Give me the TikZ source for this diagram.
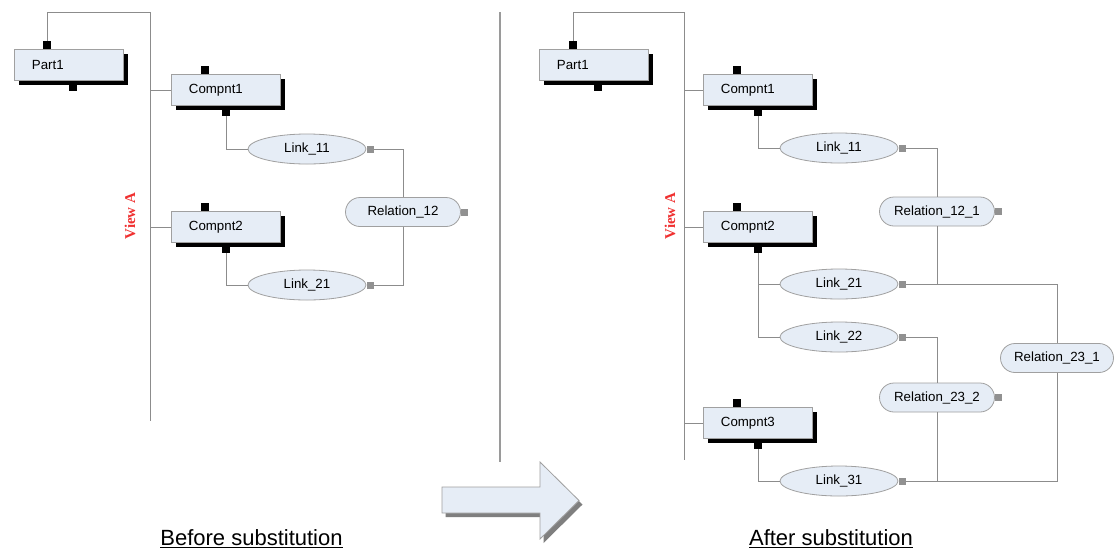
\documentclass[tikz,border=0pt]{standalone}
\usepackage{fontspec}
\setmainfont{Liberation Sans}
\newfontfamily\viewfont{Liberation Serif}
\usetikzlibrary{shapes.misc,shapes.geometric,shadows}
\definecolor{boxfill}{HTML}{E6EDF6}
\definecolor{boxline}{HTML}{A0A0A0}
\definecolor{wirecol}{HTML}{8C8C8C}
\definecolor{sqgray}{HTML}{919191}
\definecolor{viewred}{HTML}{F03030}
\definecolor{sepcol}{HTML}{9A9A9A}
\definecolor{arrowshadow}{HTML}{7F7F7F}
\tikzset{
  comp/.style={rectangle, draw=boxline, line width=0.8pt, fill=boxfill,
    minimum height=31pt, text width=74pt, inner xsep=17.5pt, inner ysep=0pt,
    align=left, anchor=north west, font=\fontsize{13.3}{16}\selectfont,
    drop shadow={shadow xshift=5pt, shadow yshift=-5pt, fill=black, opacity=1}},
  toptab/.style={rectangle, fill=black, minimum width=8pt, minimum height=8pt,
    inner sep=0pt, anchor=south},
  bottab/.style={rectangle, fill=black, minimum width=8pt, minimum height=10pt,
    inner sep=0pt, anchor=north},
  link/.style={ellipse, draw=boxline, line width=0.8pt, fill=boxfill,
    minimum width=118pt, minimum height=30pt, inner sep=0pt,
    font=\fontsize{13.3}{16}\selectfont},
  rel/.style={rounded rectangle, draw=boxline, line width=0.8pt, fill=boxfill,
    minimum width=115pt, minimum height=29pt, inner sep=0pt,
    font=\fontsize{13.3}{16}\selectfont},
  sq/.style={rectangle, fill=sqgray, minimum size=7pt, inner sep=0pt, anchor=west},
  wire/.style={draw=wirecol, line width=0.8pt},
  mainline/.style={draw=wirecol, line width=0.9pt},
  viewlbl/.style={rotate=90, text=viewred,
    font=\viewfont\bfseries\fontsize{15}{18}\selectfont},
  caption/.style={anchor=base, font=\fontsize{22}{26}\selectfont}
}
\begin{document}
\begin{tikzpicture}[x=1pt, y=-1pt]
\useasboundingbox (0,0) rectangle (1114,550);
\fill[white] (0,0) rectangle (1114,550);
\clip (0,0) rectangle (1114,550);

% ================= LEFT PANEL =================
\node[comp] (p1) at (14,49) {Part1};
\node[toptab] (p1t) at ([xshift=33pt]p1.north west) {};
\node[bottab] (p1b) at ([xshift=58.5pt]p1.south west) {};

\node[comp] (c1) at (171,74) {Compnt1};
\node[toptab] (c1t) at ([xshift=33.5pt]c1.north west) {};
\node[bottab] (c1b) at ([xshift=55pt]c1.south west) {};

\node[comp] (c2) at (171,211) {Compnt2};
\node[toptab] (c2t) at ([xshift=33.5pt]c2.north west) {};
\node[bottab] (c2b) at ([xshift=55pt]c2.south west) {};

\node[link] (l11) at (307,149) {Link\_11};
\node[sq] (l11s) at (l11.east) {};
\node[link] (l21) at (307,285) {Link\_21};
\node[sq] (l21s) at (l21.east) {};
\node[rel] (r12) at (403,212) {Relation\_12};
\node[sq] (r12s) at (r12.east) {};

\node[viewlbl] (va1) at (130,216) {View A};

\coordinate (LT) at (150,12);
\coordinate (LB) at (150,421);
\draw[mainline] (p1t.north) |- (LT) -- (LB);
\draw[wire] (c1.west -| LT) -- (c1.west);
\draw[wire] (c2.west -| LT) -- (c2.west);
\draw[wire] (c1b.south) |- (l11.west);
\draw[wire] (l11s.east) -| (r12.north);
\draw[wire] (r12.south) |- (l21s.east);
\draw[wire] (c2b.south) |- (l21.west);

% ================= SEPARATOR & ARROW =================
\coordinate (ST) at (500,12);
\coordinate (SB) at (500,462);
\draw[draw=sepcol, line width=2.2pt] (ST) -- (SB);

\begin{scope}[shift={(3.5,4)}]
\fill[arrowshadow] (442,487) -- (540,487) -- (540,462) -- (579,500.5)
  -- (540,539) -- (540,513) -- (442,513) -- cycle;
\end{scope}
\filldraw[fill=boxfill, draw=boxline, line width=0.8pt]
  (442,487) -- (540,487) -- (540,462) -- (579,500.5)
  -- (540,539) -- (540,513) -- (442,513) -- cycle;

% ================= RIGHT PANEL =================
\node[comp] (rp1) at (539,49) {Part1};
\node[toptab] (rp1t) at ([xshift=34pt]rp1.north west) {};
\node[bottab] (rp1b) at ([xshift=59pt]rp1.south west) {};

\node[comp] (rc1) at (703,74) {Compnt1};
\node[toptab] (rc1t) at ([xshift=34pt]rc1.north west) {};
\node[bottab] (rc1b) at ([xshift=55pt]rc1.south west) {};

\node[comp] (rc2) at (703,211) {Compnt2};
\node[toptab] (rc2t) at ([xshift=34pt]rc2.north west) {};
\node[bottab] (rc2b) at ([xshift=55pt]rc2.south west) {};

\node[comp] (rc3) at (703,407) {Compnt3};
\node[toptab] (rc3t) at ([xshift=33.5pt]rc3.north west) {};
\node[bottab] (rc3b) at ([xshift=55pt]rc3.south west) {};

\node[link] (rl11) at (839,148) {Link\_11};
\node[sq] (rl11s) at (rl11.east) {};
\node[link] (rl21) at (839,284) {Link\_21};
\node[sq] (rl21s) at (rl21.east) {};
\node[link] (rl22) at (839,337) {Link\_22};
\node[sq] (rl22s) at (rl22.east) {};
\node[link] (rl31) at (839,481) {Link\_31};
\node[sq] (rl31s) at (rl31.east) {};

\node[rel] (r121) at (937,211.5) {Relation\_12\_1};
\node[sq] (r121s) at (r121.east) {};
\node[rel] (r232) at (937,397.5) {Relation\_23\_2};
\node[sq] (r232s) at (r232.east) {};
\node[rel, minimum width=113pt] (r231) at (1057,358) {Relation\_23\_1};
\node[sq] (r231s) at (r231.east) {};

\node[viewlbl] (va2) at (670,216) {View A};

\coordinate (RT) at (684,12);
\coordinate (RB) at (684,460);
\draw[mainline] (rp1t.north) |- (RT) -- (RB);
\draw[wire] (rc1.west -| RT) -- (rc1.west);
\draw[wire] (rc2.west -| RT) -- (rc2.west);
\draw[wire] (rc3.west -| RT) -- (rc3.west);
\draw[wire] (rc1b.south) |- (rl11.west);
\draw[wire] (rl11s.east) -| (r121.north);
\draw[wire] (r121.south) -- (r121.south |- rl21s.east);
\draw[wire] (rl21s.east) -| (r231.north);
\draw[wire] (rc2b.south) |- (rl21.west);
\draw[wire] (rc2b.south) |- (rl22.west);
\draw[wire] (rl22s.east) -| (r232.north);
\draw[wire] (r232.south) -- (r232.south |- rl31s.east);
\draw[wire] (rl31s.east) -| (r231.south);
\draw[wire] (rc3b.south) |- (rl31.west);

% ================= CAPTIONS =================
\node[caption] (cap1) at (251.5,545.5) {\underline{Before substitution}};
\node[caption] (cap2) at (831,545.5) {\underline{After substitution}};
\end{tikzpicture}
\end{document}
